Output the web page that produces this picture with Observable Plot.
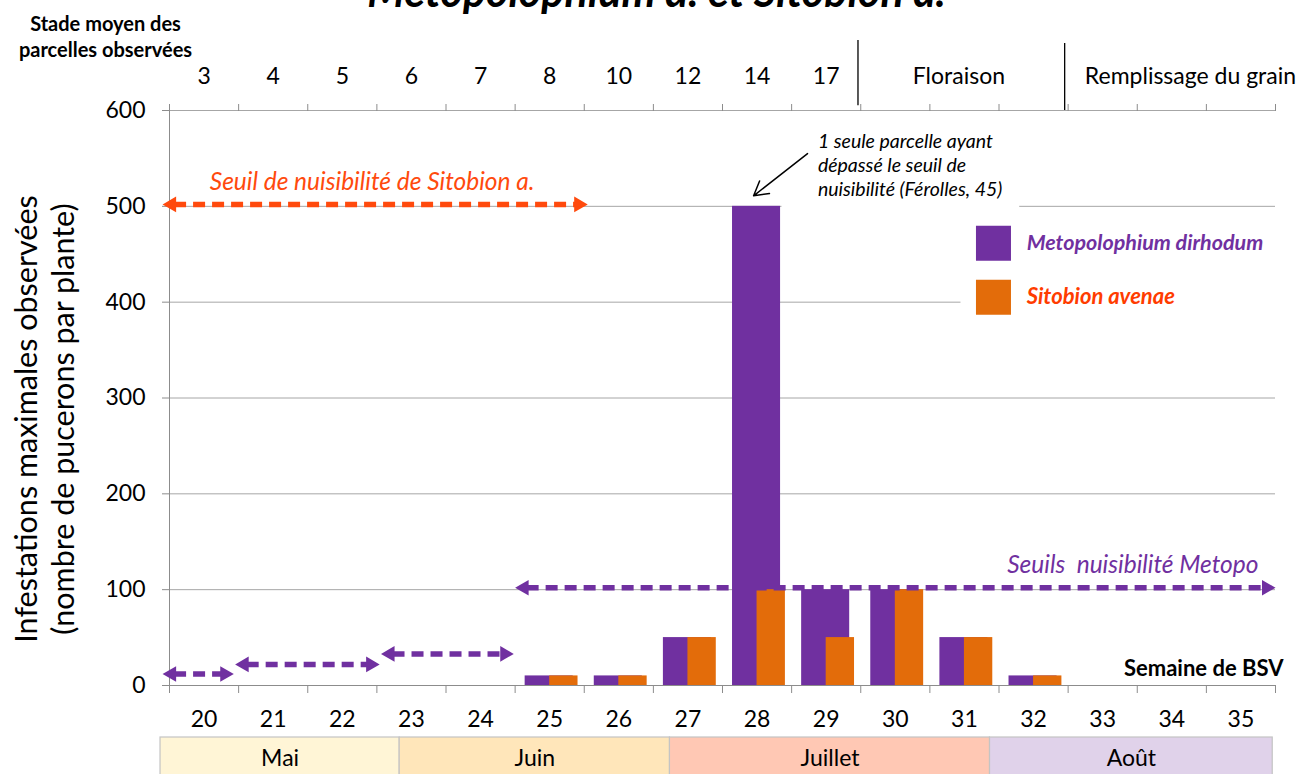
<!DOCTYPE html>
<html>
<head>
<meta charset="utf-8">
<script src="https://cdn.jsdelivr.net/npm/d3@7"></script>
<script src="https://cdn.jsdelivr.net/npm/@observablehq/plot@0.6"></script>
<style>
html, body { margin: 0; padding: 0; background: #fff; overflow: hidden; }
#chart svg { display: block; }
</style>
</head>
<body>
<div id="chart"></div>
<script>
// ---------- data ----------
const weeks = [20, 21, 22, 23, 24, 25, 26, 27, 28, 29, 30, 31, 32, 33, 34, 35];
const metopo = [0, 0, 0, 0, 0, 10, 10, 50, 500, 100, 100, 50, 10, 0, 0, 0];
const sitobion = [0, 0, 0, 0, 0, 10, 10, 50, 100, 50, 100, 50, 10, 0, 0, 0];
const yTicks = [0, 100, 200, 300, 400, 500, 600];
const weekBounds = [19.5, 20.5, 21.5, 22.5, 23.5, 24.5, 25.5, 26.5, 27.5, 28.5, 29.5, 30.5, 31.5, 32.5, 33.5, 34.5, 35.5];

const stageLabels = ["3", "4", "5", "6", "7", "8", "10", "12", "14", "17", "Floraison", "Remplissage du grain"];
const stagePos = [20, 21, 22, 23, 24, 25, 26, 27, 28, 29, 30.92, 34.27];
const stageSeparators = [29.46, 32.45];

const months = ["Mai", "Juin", "Juillet", "Août"];
const monthStart = [19.37, 22.83, 26.74, 31.37];
const monthEnd = [22.83, 26.74, 31.37, 35.46];

// thresholds (value, from week, to week)
const metopoThr = [12, 22, 33, 102];
const metopoThrFrom = [19.4, 20.45, 22.56, 24.5];
const metopoThrTo = [20.43, 22.54, 24.48, 35.5];
const sitobionThr = [502];
const sitobionThrFrom = [19.4];
const sitobionThrTo = [25.55];

const seriesNames = ["Metopolophium dirhodum", "Sitobion avenae"];

// ---------- styles ----------
const PURPLE = "#7030A0";
const ORANGE = "#E36C0A";
const RED = "#FF4A0D";
const LEGEND_RED = "#FF3C00";
const GRID = "#a6a6a6";
const AXIS = "#8c8c8c";
const monthColors = ["#FFF5D6", "#FFE6BA", "#FFC8B4", "#E0D2EA"];
const FONT = "Lato, 'Open Sans', sans-serif";

const rows = weeks.map((w, i) => ({week: w, metopo: metopo[i], sitobion: sitobion[i]}));
const mThr = metopoThr.map((v, i) => ({y: v, x1: metopoThrFrom[i], x2: metopoThrTo[i]}));
const sThr = sitobionThr.map((v, i) => ({y: v, x1: sitobionThrFrom[i], x2: sitobionThrTo[i]}));

function thresholdArrow(data, color) {
  return [
    Plot.ruleY(data, {x1: "x1", x2: "x2", y: "y", stroke: color, strokeWidth: 5.5,
      strokeDasharray: "12,7", insetLeft: 12, insetRight: 12}),
    Plot.dot(data, {x: "x2", y: "y", symbol: "triangle", r: 5.8, rotate: 90, dx: -9,
      fill: color, stroke: "none"}),
    Plot.dot(data, {x: "x1", y: "y", symbol: "triangle", r: 5.8, rotate: -90, dx: 9,
      fill: color, stroke: "none"})
  ];
}

const main = Plot.plot({
  width: 1303,
  height: 737,
  marginLeft: 169,
  marginRight: 28,
  marginTop: 110,
  marginBottom: 52,
  style: {fontFamily: FONT, background: "#fff", color: "#000", overflow: "hidden"},
  x: {domain: [19.5, 35.5], axis: null},
  y: {domain: [0, 600], axis: null, label: null},
  marks: [
    // title (partially cut off at top, as in the reference)
    Plot.text(["Metopolophium d. et Sitobion a."], {frameAnchor: "top", dx: -66, dy: -104,
      lineAnchor: "bottom", fontSize: 43, fontWeight: "bold", fontStyle: "italic", fill: "#000"}),
    Plot.text(["Stade moyen des\nparcelles observées"], {frameAnchor: "top-left", dx: -64, dy: -75,
      textAnchor: "middle", lineAnchor: "middle", fontSize: 20, fontWeight: "bold", lineHeight: 1.3, fill: "#000"}),
    // grid
    Plot.gridY(yTicks.filter(v => v > 0), {stroke: GRID, strokeOpacity: 1}),
    // white boxes behind annotation and legend
    Plot.rect([0], {x1: () => 28.36, x2: () => 31.8, y1: () => 495.5, y2: () => 584, fill: "#fff"}),
    Plot.rect([0], {x1: () => 30.95, x2: () => 35.5, y1: () => 375, y2: () => 490, fill: "#fff"}),
    // axes
    Plot.ruleX([19.5], {stroke: AXIS}),
    Plot.ruleY([0], {stroke: AXIS}),
    Plot.axisY(yTicks, {anchor: "left", tickSize: 7, tickPadding: 17, fontSize: 23,
      stroke: AXIS, fill: "#000", label: null}),
    Plot.axisX(weekBounds, {anchor: "bottom", tickSize: 8, tickFormat: () => "", stroke: AXIS, label: null}),
    Plot.axisX(weekBounds, {anchor: "top", tickSize: 7, tickFormat: () => "", stroke: AXIS, label: null}),
    Plot.axisX(weeks, {anchor: "bottom", tickSize: 0, tickPadding: 25, fontSize: 23, fill: "#000", label: null}),
    // stage labels
    Plot.text(stageLabels, {x: (d, i) => stagePos[i], frameAnchor: "top", dy: -34,
      text: d => d, fontSize: 23, fill: "#000", lineAnchor: "middle"}),
    Plot.ruleX(stageSeparators, {x: d => d, y1: [673, 670], y2: [605, 600], stroke: "#000", strokeWidth: 1.3}),
    // bars
    Plot.rect(rows.filter(d => d.metopo > 0), {x1: d => d.week - 0.5 + 0.145, x2: d => d.week - 0.5 + 0.84,
      y1: () => 0, y2: "metopo", fill: PURPLE}),
    Plot.rect(rows.filter(d => d.sitobion > 0), {x1: d => d.week - 0.5 + 0.50, x2: d => d.week - 0.5 + 0.91,
      y1: () => 0, y2: "sitobion", fill: ORANGE}),
    // thresholds
    ...thresholdArrow(mThr, PURPLE),
    ...thresholdArrow(sThr, RED),
    Plot.text(sThr, {x: d => (d.x1 + d.x2) / 2, y: "y", dx: -3, dy: -22, text: () => "Seuil de nuisibilité de Sitobion a.",
      fontSize: 24.5, fontStyle: "italic", fill: RED}),
    Plot.text(mThr.slice(-1), {x: "x2", y: "y", dx: -17, dy: -23, textAnchor: "end",
      text: () => "Seuils\u00a0 nuisibilité Metopo", fontSize: 24.5, fontStyle: "italic", fill: PURPLE}),
    // annotation
    Plot.text(["1 seule parcelle ayant\ndépassé le seuil de\nnuisibilité (Férolles, 45)"], {x: () => 28.88, y: () => 544,
      textAnchor: "start", lineAnchor: "middle", fontSize: 19.5, fontStyle: "italic", lineHeight: 1.25, fill: "#000"}),
    Plot.arrow([0], {x1: () => 28.73, y1: () => 555, x2: () => 27.95, y2: () => 511,
      stroke: "#000", strokeWidth: 1.5, headLength: 16}),
    // legend
    Plot.dot(seriesNames, {x: () => 31.42, y: (d, i) => [461.6, 405.2][i], symbol: "square", r: 19.75,
      fill: (d, i) => [PURPLE, ORANGE][i], stroke: "none"}),
    Plot.text(seriesNames, {x: () => 31.9, y: (d, i) => [461.6, 405.2][i], text: d => d, textAnchor: "start",
      fontSize: (d, i) => [21.5, 22][i], fontWeight: "bold", fontStyle: "italic", fill: (d, i) => [PURPLE, LEGEND_RED][i]}),
    // x title
    Plot.text(["Semaine de BSV"], {frameAnchor: "bottom-right", dx: 8, dy: -17, textAnchor: "end",
      lineAnchor: "middle", fontSize: 22, fontWeight: "bold", fill: "#000"}),
    // y title
    Plot.text(["Infestations maximales observées\n(nombre de pucerons par plante)"], {frameAnchor: "left",
      dx: -126, dy: 21, rotate: -90, textAnchor: "middle", lineAnchor: "middle", fontSize: 30.5,
      lineHeight: 1.2, fill: "#000"})
  ]
});

const monthBand = Plot.plot({
  width: 1303,
  height: 42,
  marginLeft: 169,
  marginRight: 28,
  marginTop: 0,
  marginBottom: 0,
  style: {fontFamily: FONT, background: "#fff", color: "#000", overflow: "visible"},
  x: {domain: [19.5, 35.5], axis: null},
  marks: [
    Plot.rect(months, {x1: (d, i) => monthStart[i], x2: (d, i) => monthEnd[i],
      fill: (d, i) => monthColors[i], stroke: "#c4c4c4", strokeWidth: 1.2}),
    Plot.text(months, {x: (d, i) => (monthStart[i] + monthEnd[i]) / 2, frameAnchor: "middle",
      text: d => d, fontSize: 23, fill: "#000"})
  ]
});

const chart = document.getElementById("chart");
chart.appendChild(main);
chart.appendChild(monthBand);
</script>
</body>
</html>
